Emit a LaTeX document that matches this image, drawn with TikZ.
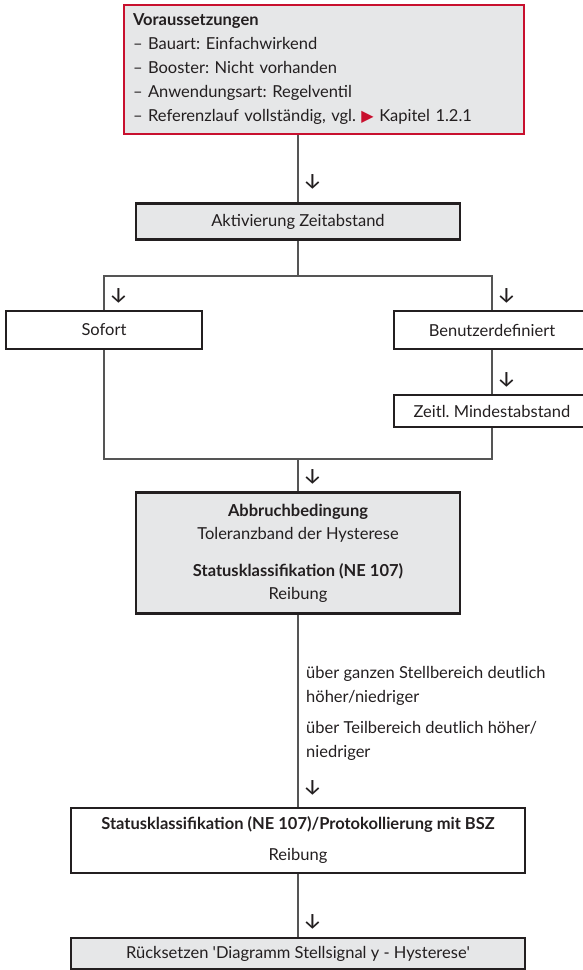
\documentclass[tikz,border=0pt]{standalone}
\usepackage{fontspec}
\setmainfont{Lato}
\newfontfamily\symfont{DejaVu Sans}
\newfontfamily\arrowfont{Fira Sans}
\usepackage{xcolor}
\definecolor{samred}{RGB}{200,16,46}
\definecolor{samgray}{RGB}{230,231,232}
\definecolor{samdark}{RGB}{35,31,32}
\definecolor{samline}{RGB}{85,85,85}
\usetikzlibrary{positioning, calc}
\frenchspacing

\begin{document}
\begin{tikzpicture}[x=1pt, y=-1pt,
    box/.style={draw=samdark, line width=2.5pt, inner sep=0pt, align=center,
                text=samdark, font=\fontsize{16.5}{24}\selectfont},
    greybox/.style={box, fill=samgray},
    conn/.style={draw=samline, line width=1.4pt},
    glyph/.style={inner sep=0pt, text=samdark, font=\arrowfont\fontsize{22}{22}\selectfont},
    note/.style={inner sep=0pt, align=left, text=samdark, font=\fontsize{16.5}{24}\selectfont}]

\useasboundingbox (0,0) rectangle (582,970);

% === Top: Voraussetzungen ===
\node[greybox, draw=samred, align=left, text width=382pt,
      minimum width=400pt, minimum height=129pt] (pre) at (324,69.5)
     {\textbf{Voraussetzungen}\\
      – Bauart: Einfachwirkend\\
      – Booster: Nicht vorhanden\\
      – Anwendungsart: Regelventil\\
      – Referenzlauf vollständig, vgl. {\color{samred}\symfont\fontsize{16}{16}\selectfont ▶} Kapitel 1.2.1};

% Aktivierung
\node[greybox, minimum width=324pt, minimum height=36pt] (akt) at (298,221.5) {Aktivierung Zeitabstand};

% === Branches ===
\coordinate (split) at (298,276);
\node[box, minimum width=196pt, minimum height=38pt] (sofort) at (104,330) {Sofort};
\node[box, minimum width=196pt, minimum height=38pt] (benutzer) at (492,330) {Benutzerdefiniert};
\node[box, minimum width=196pt, minimum height=32pt] (zeitl) at (492,411) {Zeitl. Mindestabstand};
\coordinate (merge) at (298,459);

% === Abbruchbedingung ===
\node[greybox, minimum width=324pt, minimum height=121pt] (abbruch) at (298,553)
     {\textbf{Abbruchbedingung}\\[-1pt]
      Toleranzband der Hysterese\\[13pt]
      \textbf{Statusklassifikation (NE 107)}\\[-1pt]
      Reibung};

% Conditions
\node[note, anchor=west] (cond) at (306,713)
     {über ganzen Stellbereich deutlich\\
      höher/niedriger\\[7pt]
      über Teilbereich deutlich höher/\\
      niedriger};

% === Bottom ===
\node[box, minimum width=454pt, minimum height=65pt] (status) at (298,840.5)
     {\textbf{Statusklassifikation (NE 107)/Protokollierung mit BSZ}\\[7pt]
      Reibung};
\node[greybox, minimum width=454pt, minimum height=31pt] (reset) at (298,953.5)
     {Rücksetzen \textquotesingle Diagramm Stellsignal y - Hysterese\textquotesingle};

% Connectors
\draw[conn] (akt.north |- pre.south) -- (akt.north)
      node[glyph, pos=0.7, right=4pt] {↓};
\draw[conn] (akt.south) -- (split);
\draw[conn] (split) -| (sofort.north) node[glyph, pos=0.8, right=4pt] {↓};
\draw[conn] (split) -| (benutzer.north) node[glyph, pos=0.8, right=4pt] {↓};
\draw[conn] (benutzer.south) -- (zeitl.north) node[glyph, pos=0.68, right=4pt] {↓};
\draw[conn] (sofort.south) |- (merge);
\draw[conn] (zeitl.south) |- (merge);
\draw[conn] (merge) -- (abbruch.north) node[glyph, pos=0.55, right=4pt] {↓};
\draw[conn] (abbruch.south) -- (status.north) node[glyph, pos=0.9, right=4pt] {↓};
\draw[conn] (status.south) -- (reset.north) node[glyph, pos=0.76, right=4pt] {↓};

\end{tikzpicture}
\end{document}
